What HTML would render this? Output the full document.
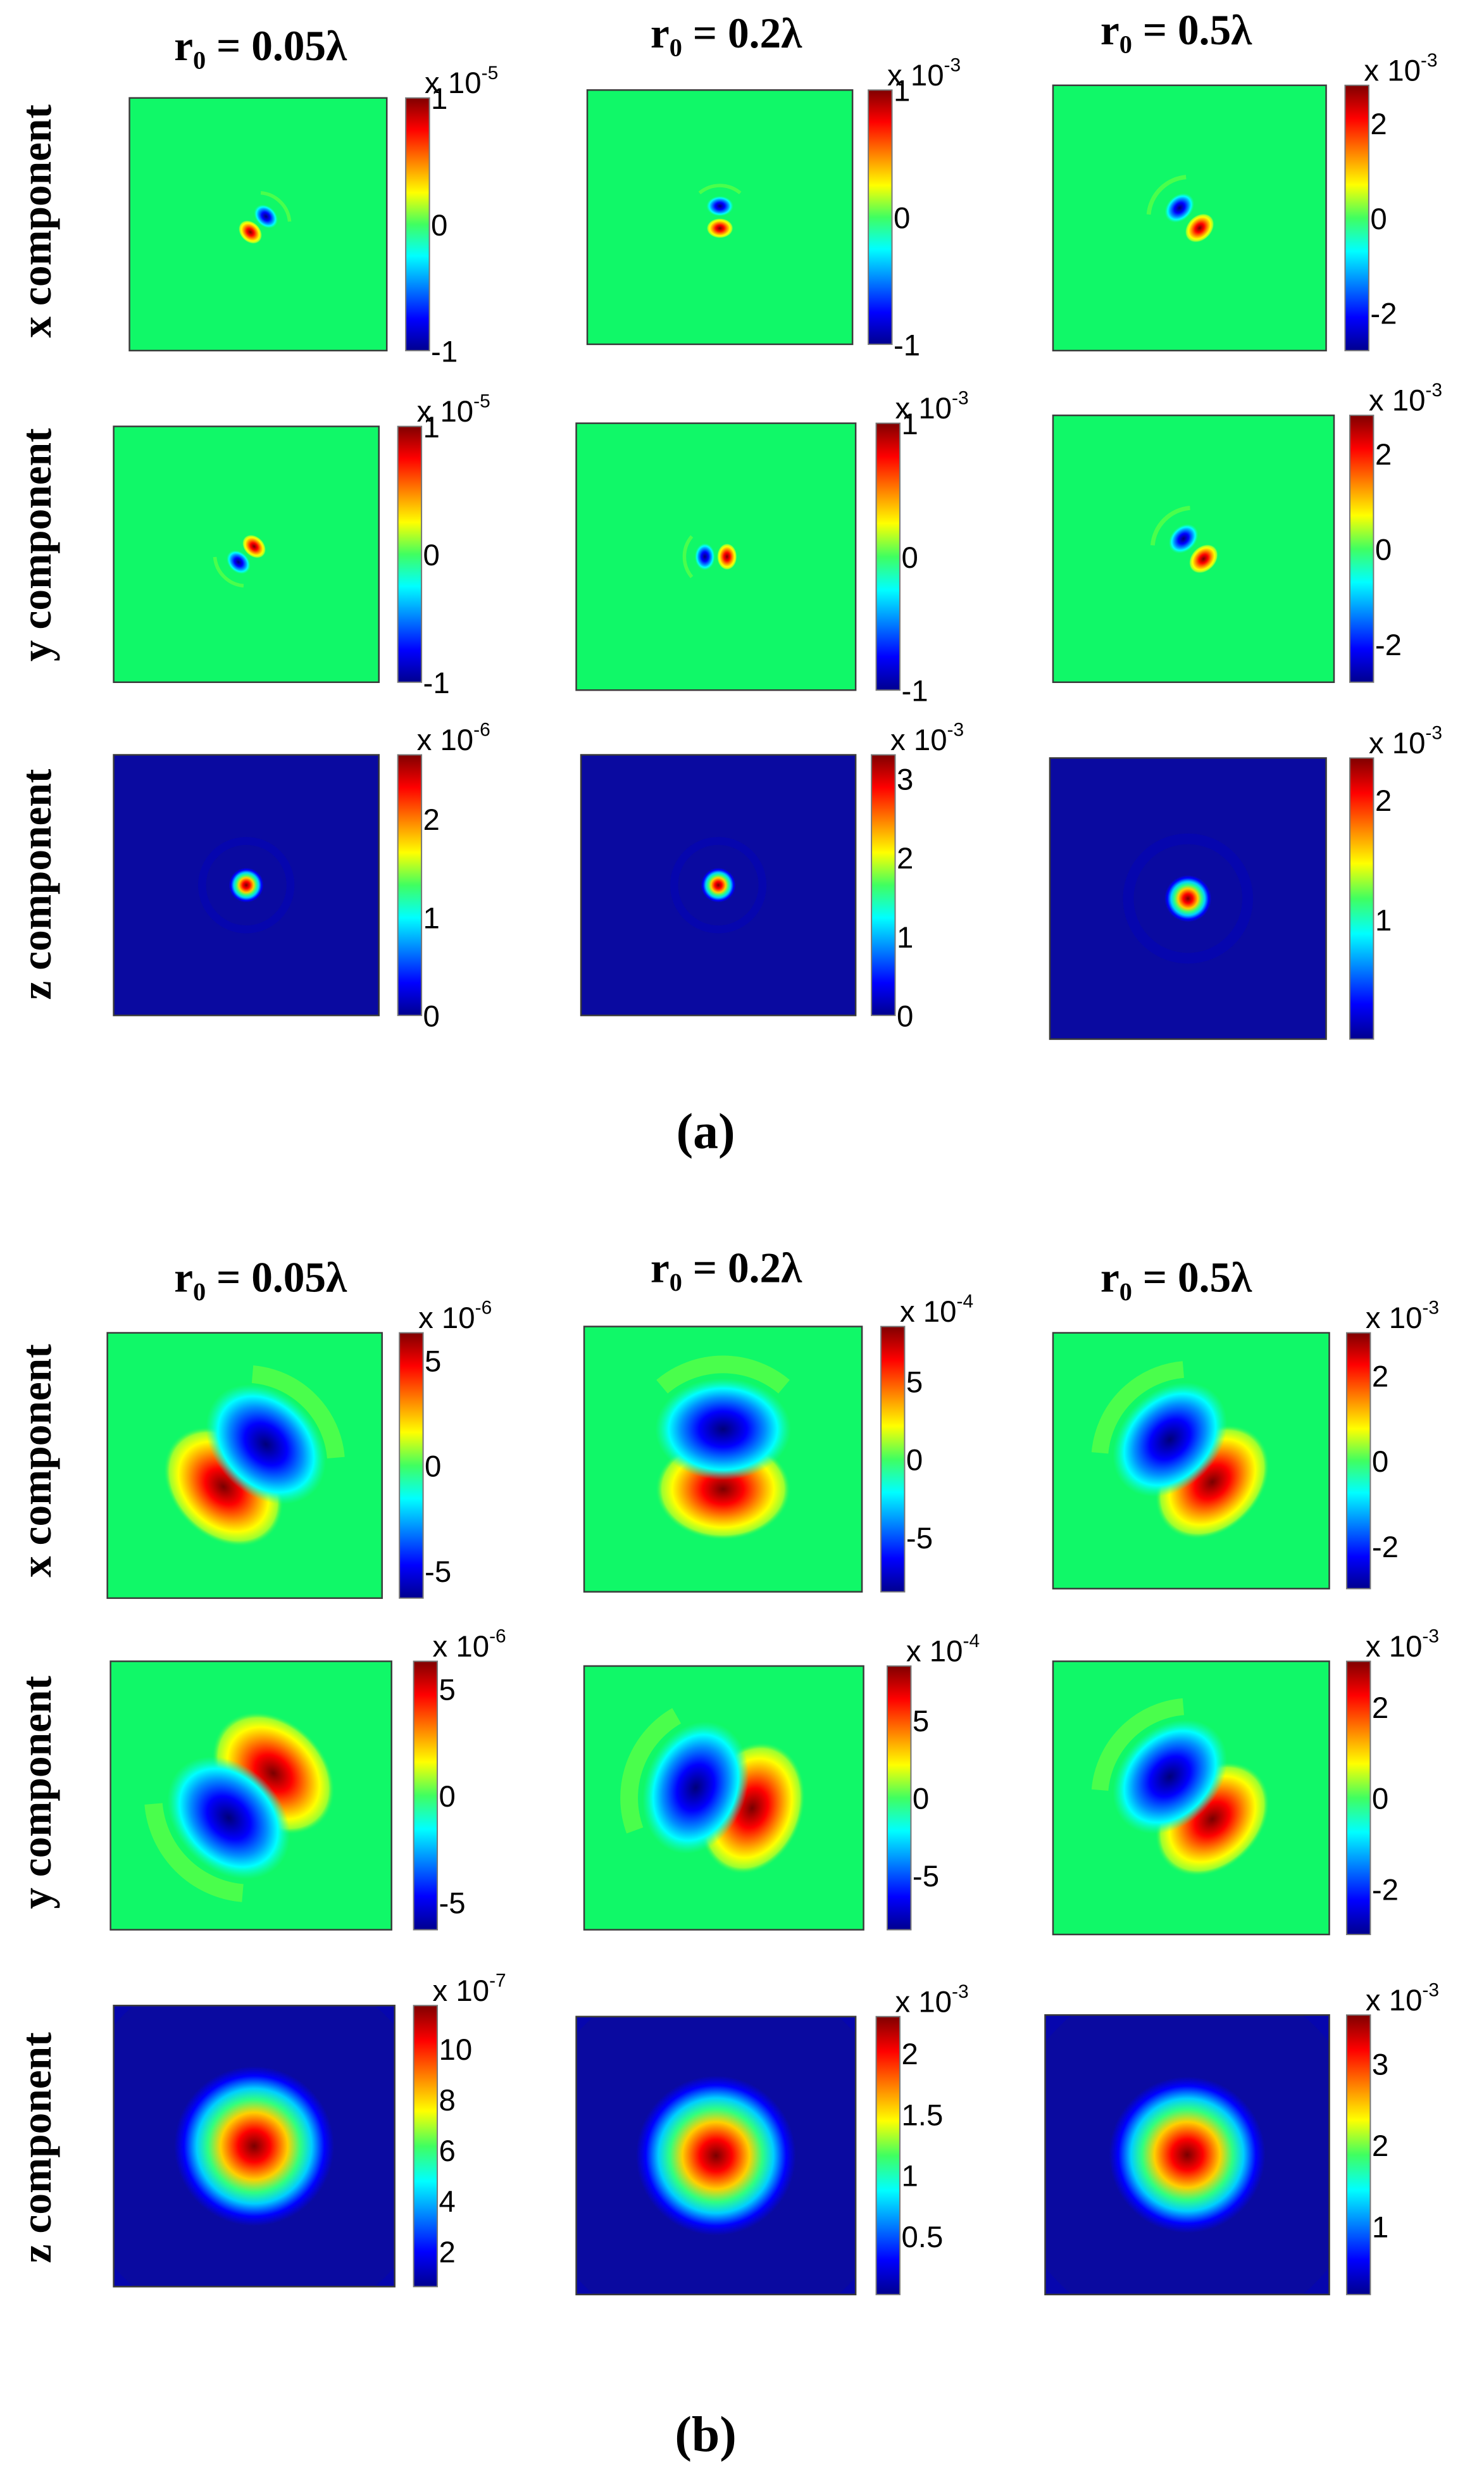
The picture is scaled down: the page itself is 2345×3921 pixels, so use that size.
<!DOCTYPE html>
<html><head><meta charset="utf-8"><title>Field components</title>
<style>html,body{margin:0;padding:0;background:#fff}svg{display:block}</style></head>
<body>
<svg id="fig" width="2345" height="3921" viewBox="0 0 940 1571.7" xmlns="http://www.w3.org/2000/svg">
<defs>
<linearGradient id="jetV" x1="0" y1="0" x2="0" y2="1">
<stop offset="0" stop-color="#800000"/><stop offset="0.125" stop-color="#ff0000"/><stop offset="0.375" stop-color="#ffff00"/><stop offset="0.5" stop-color="#40ff60"/><stop offset="0.625" stop-color="#00ffff"/><stop offset="0.875" stop-color="#0000ff"/><stop offset="1" stop-color="#00008f"/>
</linearGradient>
<radialGradient id="gRed"><stop offset="0" stop-color="#7a0000"/><stop offset="0.3" stop-color="#ff0000"/><stop offset="0.58" stop-color="#ffa000"/><stop offset="0.75" stop-color="#ffff00"/><stop offset="0.9" stop-color="#9cff30"/><stop offset="1" stop-color="#10f868" stop-opacity="0"/></radialGradient>
<radialGradient id="gBlue"><stop offset="0" stop-color="#00007a"/><stop offset="0.35" stop-color="#0000ff"/><stop offset="0.62" stop-color="#0090ff"/><stop offset="0.8" stop-color="#00ffff"/><stop offset="1" stop-color="#10f8c0" stop-opacity="0"/></radialGradient>
<radialGradient id="gSpot"><stop offset="0" stop-color="#7a0000"/><stop offset="0.2" stop-color="#ff0000"/><stop offset="0.42" stop-color="#ffd000"/><stop offset="0.58" stop-color="#30ff80"/><stop offset="0.72" stop-color="#00d0ff"/><stop offset="0.88" stop-color="#0000ff"/><stop offset="1" stop-color="#0a0aa0"/></radialGradient>
</defs>
<g id="root"></g>
</svg>
<script>
// ---- data ----
var titles = ["r\u2080 = 0.05\u03bb", "r\u2080 = 0.2\u03bb", "r\u2080 = 0.5\u03bb"];
var rowLabels = ["x component", "y component", "z component"];
var panelTypes = ["dip","dip","dip","dip","dip","dip","spot","spot","spot","dip","dip","dip","dip","dip","dip","spot","spot","spot"];
var cbMin = [-1,-1,-2.8,-1,-1,-2.8,0,0,0, -6.3,-8.5,-3,-6.3,-8.5,-3, 0.6,0.02,0.16];
var cbMax = [1,1,2.8,1,1,2.8,2.65,3.3,2.35, 6.3,8.5,3,6.3,8.5,3, 11.7,2.3,3.6];
var cbTicks = [[1,0,-1],[1,0,-1],[2,0,-2],[1,0,-1],[1,0,-1],[2,0,-2],[2,1,0],[3,2,1,0],[2,1],
               [5,0,-5],[5,0,-5],[2,0,-2],[5,0,-5],[5,0,-5],[2,0,-2],[10,8,6,4,2],[2,1.5,1,0.5],[3,2,1]];
var exponents = ["-5","-3","-3","-5","-3","-3","-6","-3","-3","-6","-4","-3","-6","-4","-3","-7","-3","-3"];
var redAngle = [135,90,45,-45,0,45,0,0,0, 135,90,45,-45,20,45,0,0,0];
var lobeScale = [0.85,0.85,1.05,0.85,0.85,1.05,1,1,1.35, 4.3,4.3,4.1,4.4,4.3,4.1, 4.6,4.6,4.5];
var lobeOffset = [7,7,9,7,7,9,0,0,0, 19,19,19,20,19,19,0,0,0];
var arcRadius = [20,20,26,20,20,26,0,0,0, 58,60,58,62,60,58,0,0,0];
// ---- layout (thumbnail units) ----
var L = [
 [82,62,163,160,257],[372,57,168,161,550],[667,54,173,168,852],
 [72,270,168,162,252],[365,268,177,169,555],[667,263,178,169,855],
 [72,478,168,165,252],[368,478,174,165,552],[665,480,175,178,855],
 [68,844,174,168,253],[370,840,176,168,558],[667,844,175,162,853],
 [70,1052,178,170,262],[370,1055,177,167,562],[667,1052,175,173,853],
 [72,1270,178,178,262],[365,1277,177,176,555],[662,1276,180,177,853]];
var NS="http://www.w3.org/2000/svg";
var root=document.getElementById('root');
function mk(tag,attrs,parent){var e=document.createElementNS(NS,tag);for(var k in attrs)e.setAttribute(k,attrs[k]);(parent||root).appendChild(e);return e;}
function yScale(i,v){var l=L[i];return l[1]+l[3]*(cbMax[i]-v)/(cbMax[i]-cbMin[i]);}

var titleX=[165,460,745], titleY=[[38,30,28],[818,812,818]];
var rowY=[[140,345,560],[925,1135,1360]];
for(var s=0;s<2;s++){
 for(var c=0;c<3;c++){
  var t=mk('text',{x:titleX[c],y:titleY[s][c],'text-anchor':'middle','font-family':'Liberation Serif, serif','font-weight':'bold','font-size':27});
  
  
  t.textContent=titles[c];
 }
 for(var r=0;r<3;r++){
  var rl=mk('text',{x:0,y:0,transform:'translate(32,'+rowY[s][r]+') rotate(-90)','text-anchor':'middle','font-family':'Liberation Serif, serif','font-weight':'bold','font-size':27});
  
  
  rl.textContent=rowLabels[r];
 }
}
var cap=[["(a)",727],["(b)",1552]];
cap.forEach(function(cp){
 var e=mk('text',{x:447,y:cp[1],'text-anchor':'middle','font-family':'Liberation Serif, serif','font-weight':'bold','font-size':32});
 
 
 e.textContent=cp[0];
});

for(var i=0;i<18;i++){
 var l=L[i], x=l[0], y=l[1], w=l[2], h=l[3], cx=x+w/2, cy=y+h/2, k=lobeScale[i];
 var g=mk('g',{});
 
 
 var cid='clip'+i;
 var cp=mk('clipPath',{id:cid},g); mk('rect',{x:x,y:y,width:w,height:h},cp);
 var inner=mk('g',{'clip-path':'url(#'+cid+')'},g);
 if(panelTypes[i]==='dip'){
  mk('rect',{x:x,y:y,width:w,height:h,fill:'#10f868'},inner);
  var a=redAngle[i]*Math.PI/180, d=lobeOffset[i];
  var ba=a+Math.PI, R=arcRadius[i], sp=0.7;
  var p1x=cx+R*Math.cos(ba-sp), p1y=cy+R*Math.sin(ba-sp), p2x=cx+R*Math.cos(ba+sp), p2y=cy+R*Math.sin(ba+sp);
  var arc=mk('path',{d:'M'+p1x+' '+p1y+' A'+R+' '+R+' 0 0 1 '+p2x+' '+p2y,fill:'none',stroke:'#55ff48','stroke-width':2.6*k,'stroke-opacity':0.85},inner);
  
  
  var rx=cx+d*Math.cos(a), ry=cy+d*Math.sin(a), bx=cx-d*Math.cos(a), by=cy-d*Math.sin(a);
  var rl2=mk('ellipse',{cx:rx,cy:ry,rx:7.5*k,ry:10*k,fill:'url(#gRed)',transform:'rotate('+redAngle[i]+' '+rx+' '+ry+')'},inner);
  
  
  var bl=mk('ellipse',{cx:bx,cy:by,rx:7.5*k,ry:10*k,fill:'url(#gBlue)',transform:'rotate('+redAngle[i]+' '+bx+' '+by+')'},inner);
  
  
 } else {
  mk('rect',{x:x,y:y,width:w,height:h,fill:'#0a0aa0'},inner);
  mk('circle',{cx:cx,cy:cy,r:28*k,fill:'none',stroke:'#0606ae','stroke-width':5*k},inner);
  var sp2=mk('circle',{cx:cx,cy:cy,r:11*k,fill:'url(#gSpot)'},inner);
  
  
 }
 mk('rect',{x:x,y:y,width:w,height:h,fill:'none',stroke:'#3a3a3a','stroke-width':1},g);
 var cbx=l[4], cw=15;
 var cb=mk('rect',{x:cbx,y:y,width:cw,height:h,fill:'url(#jetV)',stroke:'#777','stroke-width':0.8},g);
 
 
 cbTicks[i].forEach(function(v){
  var ty=yScale(i,v);
  var tt=mk('text',{x:cbx+cw+1,y:ty+7,'font-family':'Liberation Sans, sans-serif','font-size':19},g);
  
  
  tt.textContent=String(v);
 });
 var ex=mk('text',{x:cbx+12,y:y-3,'font-family':'Liberation Sans, sans-serif','font-size':19},g);
 
 
 ex.appendChild(document.createTextNode('x 10'));
 var sup=mk('tspan',{dy:-9,'font-size':12},ex); sup.textContent=exponents[i];
}
</script>
</body></html>
